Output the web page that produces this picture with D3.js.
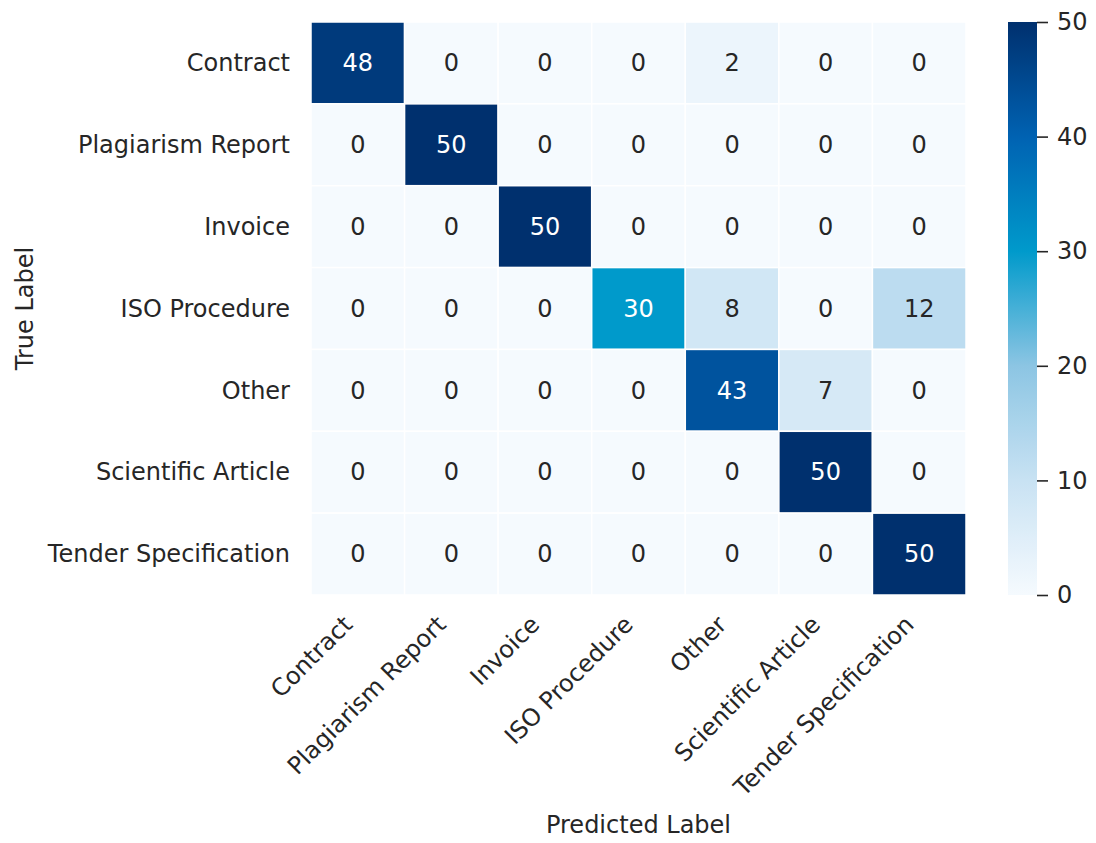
<!DOCTYPE html>
<html>
<head>
<meta charset="utf-8">
<script src="https://cdn.jsdelivr.net/npm/d3@7"></script>
<style>
  body { margin: 0; background: #fff; }
  text { font-family: "DejaVu Sans", sans-serif; fill: #262626; }
</style>
</head>
<body>
<svg id="chart" width="1096" height="843"></svg>
<script>
// class labels (same for rows and columns)
var labels = ["Contract", "Plagiarism Report", "Invoice", "ISO Procedure",
              "Other", "Scientific Article", "Tender Specification"];
// confusion matrix, rows = true label, cols = predicted
var matrix = [
    [48, 0, 0, 0, 2, 0, 0],
    [0, 50, 0, 0, 0, 0, 0],
    [0, 0, 50, 0, 0, 0, 0],
    [0, 0, 0, 30, 8, 0, 12],
    [0, 0, 0, 0, 43, 7, 0],
    [0, 0, 0, 0, 0, 50, 0],
    [0, 0, 0, 0, 0, 0, 50]
];
var cbarTicks = [0, 10, 20, 30, 40, 50];

// colormap stops (white -> light blue -> cyan -> navy)
var cmapStops = [0, 10, 20, 30, 40, 50];
var cmapColors = ["#f5fafe", "#c8e2f3", "#8cc5e3", "#009acb", "#0062b2", "#00306e"];

var svg = d3.select("#chart");
var gLeft = 311, gRight = 966, gTop = 22, gBottom = 595;

var x = d3.scaleBand().domain(labels).range([gLeft, gRight]);
var y = d3.scaleBand().domain(labels).range([gTop, gBottom]);
var color = d3.scaleLinear().domain(cmapStops).range(cmapColors)
    .interpolate(d3.interpolateRgb).clamp(true);

// pick dark or white text like seaborn does
function textColor(v) {
    var c = d3.rgb(color(v));
    var lin = [c.r, c.g, c.b].map(function(ch) {
        ch = ch / 255;
        return ch <= 0.03928 ? ch / 12.92 : Math.pow((ch + 0.055) / 1.055, 2.4);
    });
    var lum = 0.2126 * lin[0] + 0.7152 * lin[1] + 0.0722 * lin[2];
    return lum > 0.408 ? "#262626" : "#ffffff";
}

var cells = [];
matrix.forEach(function(row, i) {
    row.forEach(function(v, j) {
        cells.push({ t: labels[i], p: labels[j], v: v });
    });
});

svg.append("g").selectAll("rect")
    .data(cells)
    .enter().append("rect")
    .attr("x", d => x(d.p))
    .attr("y", d => y(d.t))
    .attr("width", x.bandwidth())
    .attr("height", y.bandwidth())
    .attr("fill", d => color(d.v))
    .attr("stroke", "#fff")
    .attr("stroke-width", 1.5);

svg.append("g").selectAll("text")
    .data(cells)
    .enter().append("text")
    .attr("x", d => x(d.p) + x.bandwidth() / 2)
    .attr("y", d => y(d.t) + y.bandwidth() / 2)
    .attr("dy", "0.34em")
    .attr("text-anchor", "middle")
    .style("font-size", "24px")
    .style("fill", d => textColor(d.v))
    .text(d => d.v);

// y tick labels
svg.append("g").selectAll("text")
    .data(labels)
    .enter().append("text")
    .attr("x", 290)
    .attr("y", d => y(d) + y.bandwidth() / 2)
    .attr("dy", "0.34em")
    .attr("text-anchor", "end")
    .style("font-size", "24px")
    .text(d => d);

// x tick labels, rotated
svg.append("g").selectAll("text")
    .data(labels)
    .enter().append("text")
    .attr("transform", d => "translate(" + (x(d) + x.bandwidth() / 2 - 4) + ",626) rotate(-45)")
    .attr("text-anchor", "end")
    .style("font-size", "24px")
    .text(d => d);

// axis titles
svg.append("text")
    .attr("x", (gLeft + gRight) / 2)
    .attr("y", 833)
    .attr("text-anchor", "middle")
    .style("font-size", "24px")
    .text("Predicted Label");

svg.append("text")
    .attr("transform", "translate(33," + (gTop + gBottom) / 2 + ") rotate(-90)")
    .attr("text-anchor", "middle")
    .style("font-size", "24px")
    .text("True Label");

// colorbar
var cbX = 1008, cbW = 29;
var cy = d3.scaleLinear().domain([0, 50]).range([gBottom, gTop]);
var grad = svg.append("defs").append("linearGradient")
    .attr("id", "cbar")
    .attr("x1", "0").attr("y1", "1").attr("x2", "0").attr("y2", "0");
grad.selectAll("stop")
    .data(d3.range(0, 1.0001, 0.02))
    .enter().append("stop")
    .attr("offset", d => d)
    .attr("stop-color", d => color(d * 50));

svg.append("rect")
    .attr("x", cbX)
    .attr("y", gTop)
    .attr("width", cbW)
    .attr("height", gBottom - gTop)
    .attr("fill", "url(#cbar)");

var cAxis = svg.append("g")
    .attr("transform", "translate(" + (cbX + cbW) + ",0)")
    .call(d3.axisRight(cy).tickValues(cbarTicks).tickSize(11).tickPadding(9));
cAxis.select(".domain").remove();
cAxis.selectAll("line").attr("stroke", "#262626").attr("stroke-width", 1.6);
cAxis.selectAll("text")
    .style("font-size", "24px")
    .style("font-family", "DejaVu Sans, sans-serif")
    .attr("fill", "#262626");
</script>
</body>
</html>
